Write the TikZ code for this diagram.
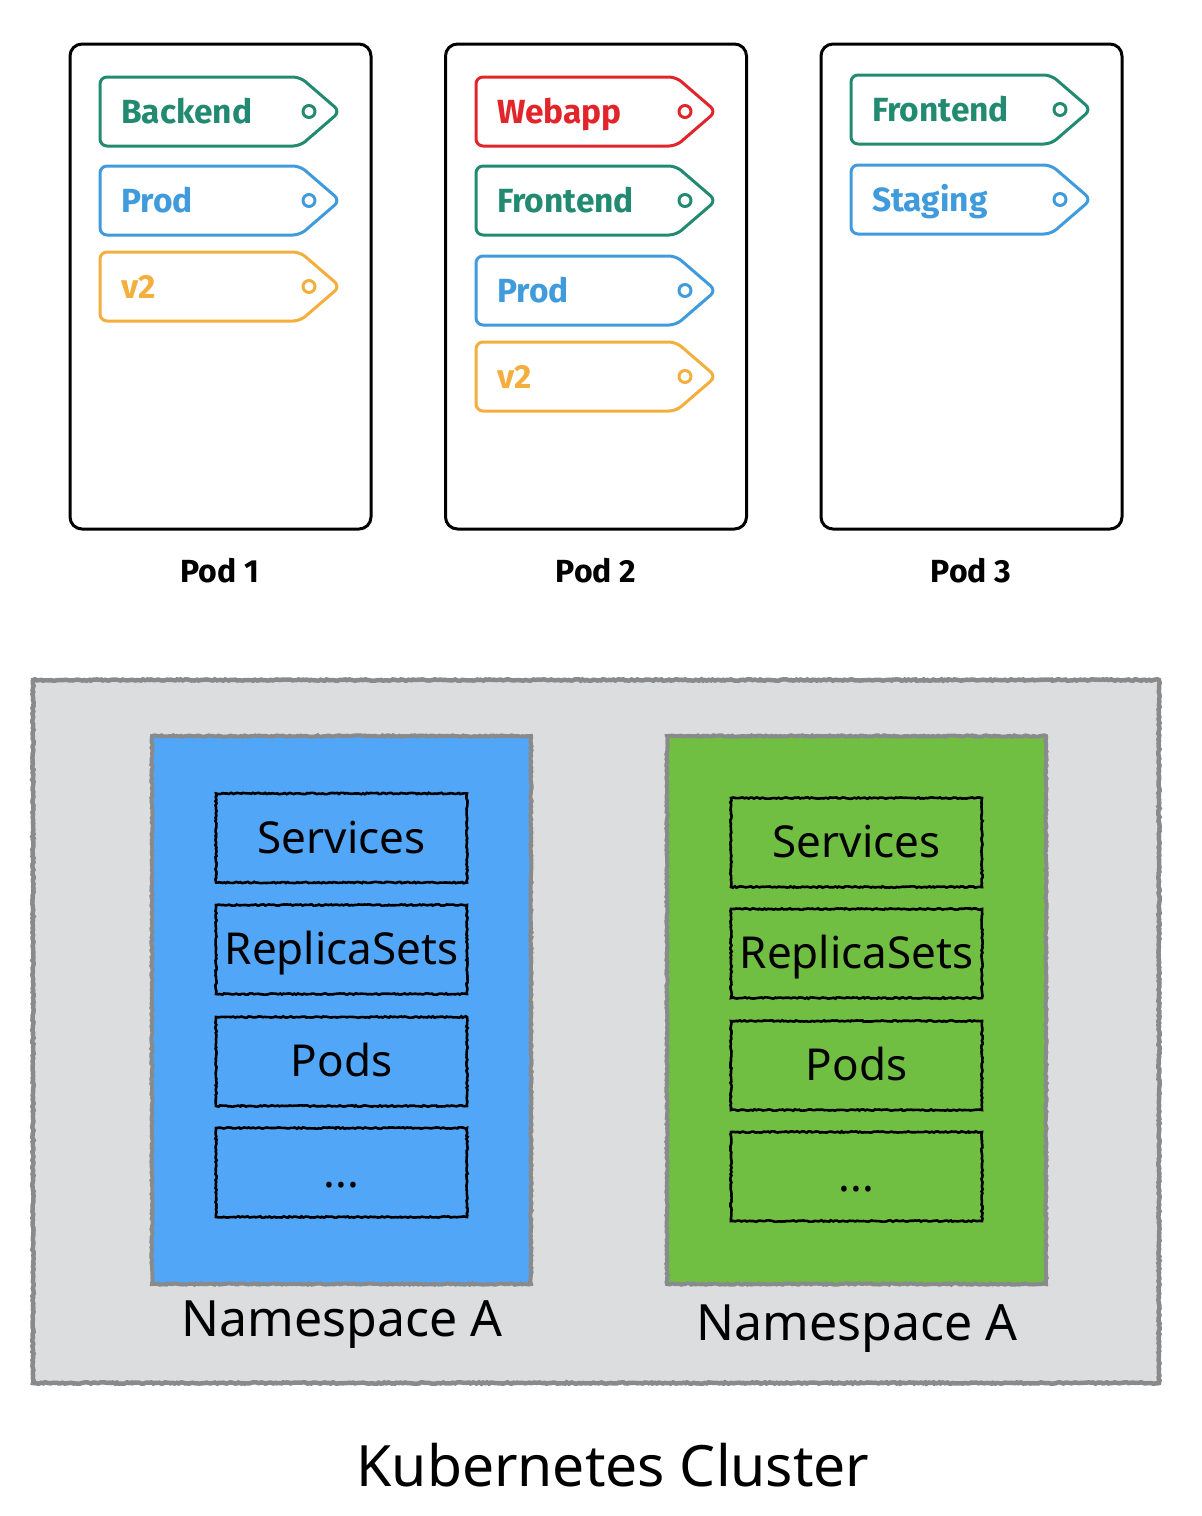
\documentclass[tikz,border=0pt]{standalone}
\usepackage{fontspec}
\setmainfont{Noto Sans}
\newfontfamily\tagfont{Fira Sans}
\usetikzlibrary{decorations.pathmorphing}
\definecolor{tgreen}{HTML}{238A72}
\definecolor{tblue}{HTML}{3F9BDB}
\definecolor{torange}{HTML}{F4AE3D}
\definecolor{tred}{HTML}{E1252B}
\definecolor{clgray}{HTML}{DCDDDF}
\definecolor{brgray}{HTML}{898A8C}
\definecolor{nsblue}{HTML}{52A6F7}
\definecolor{nsgreen}{HTML}{70BE42}
\tikzset{
  podbox/.style={draw=black, line width=3pt, rounded corners=12pt, minimum width=301, minimum height=485, inner sep=0pt},
  tagline/.style={line width=3pt, line join=round},
  tagtext/.style={font=\tagfont\bfseries\fontsize{33.5}{40}\selectfont, inner sep=0pt},
  podlabel/.style={font=\tagfont\bfseries\fontsize{32}{38}\selectfont, inner sep=0pt},
  sketchy/.style={decorate, decoration={random steps, segment length=2pt, amplitude=0.7pt}},
  cluster/.style={sketchy, draw=brgray, line width=4.5pt, fill=clgray, minimum width=1126, minimum height=703, inner sep=0pt},
  nsbox/.style={sketchy, draw=brgray, line width=4pt, minimum width=379, minimum height=548, inner sep=0pt},
  itembox/.style={sketchy, draw=black, line width=2.6pt, minimum width=251, minimum height=89, inner sep=0pt,
     font=\fontsize{44}{52}\selectfont, text height=32, text depth=2},
  nslabel/.style={font=\fontsize{50}{60}\selectfont, inner sep=0pt},
  title/.style={font=\fontsize{57}{68}\selectfont, inner sep=0pt}
}
\newcommand\podtag[5]{%
  \draw[tagline, draw=#4, rounded corners=7pt] (#2,#3) -- ++(200,0) -- ++(40,34.5) -- ++(-40,34.5) -- ++(-200,0) -- cycle;
  \draw[tagline, draw=#4] (#2+209,#3+34.5) circle[radius=6];
  \node[tagtext, text=#4, anchor=base west] (#1) at (#2+21,#3+46) {#5};
}
\begin{document}
\begin{tikzpicture}[x=1pt,y=-1pt]
\useasboundingbox (0,0) rectangle (1202,1516);
% pods
\node[podbox] (pod1) at (220.5,286.5) {};
\node[podbox] (pod2) at (596,286.5) {};
\node[podbox] (pod3) at (971.5,286.5) {};
\node[podlabel, anchor=base] (pod1l) at (220,582) {Pod 1};
\node[podlabel, anchor=base] (pod2l) at (596,582) {Pod 2};
\node[podlabel, anchor=base] (pod3l) at (971,582) {Pod 3};
% tags pod 1
\podtag{t11}{100}{77}{tgreen}{Backend}
\podtag{t12}{100}{166}{tblue}{Prod}
\podtag{t13}{100}{252}{torange}{v2}
% tags pod 2
\podtag{t21}{476}{77}{tred}{Webapp}
\podtag{t22}{476}{166}{tgreen}{Frontend}
\podtag{t23}{476}{256}{tblue}{Prod}
\podtag{t24}{476}{342}{torange}{v2}
% tags pod 3
\podtag{t31}{851}{75}{tgreen}{Frontend}
\podtag{t32}{851}{165}{tblue}{Staging}
% cluster
\node[cluster] (cl) at (596,1031.5) {};
\node[nsbox, fill=nsblue] (nsa) at (341.5,1010) {};
\node[nsbox, fill=nsgreen] (nsb) at (856.5,1010) {};
\node[itembox] (a1) at (341.5,838) {Services};
\node[itembox] (a2) at (341.5,949.5) {ReplicaSets};
\node[itembox] (a3) at (341.5,1061.5) {Pods};
\node[itembox] (a4) at (341.5,1172.5) {...};
\node[itembox] (b1) at (856.5,842.5) {Services};
\node[itembox] (b2) at (856.5,953.5) {ReplicaSets};
\node[itembox] (b3) at (856.5,1065.5) {Pods};
\node[itembox] (b4) at (856.5,1176.5) {...};
\node[nslabel, anchor=base] (nsal) at (342,1336) {Namespace A};
\node[nslabel, anchor=base] (nsbl) at (857,1340) {Namespace A};
\node[title, anchor=base] (ttl) at (613,1486) {Kubernetes Cluster};
\end{tikzpicture}
\end{document}
